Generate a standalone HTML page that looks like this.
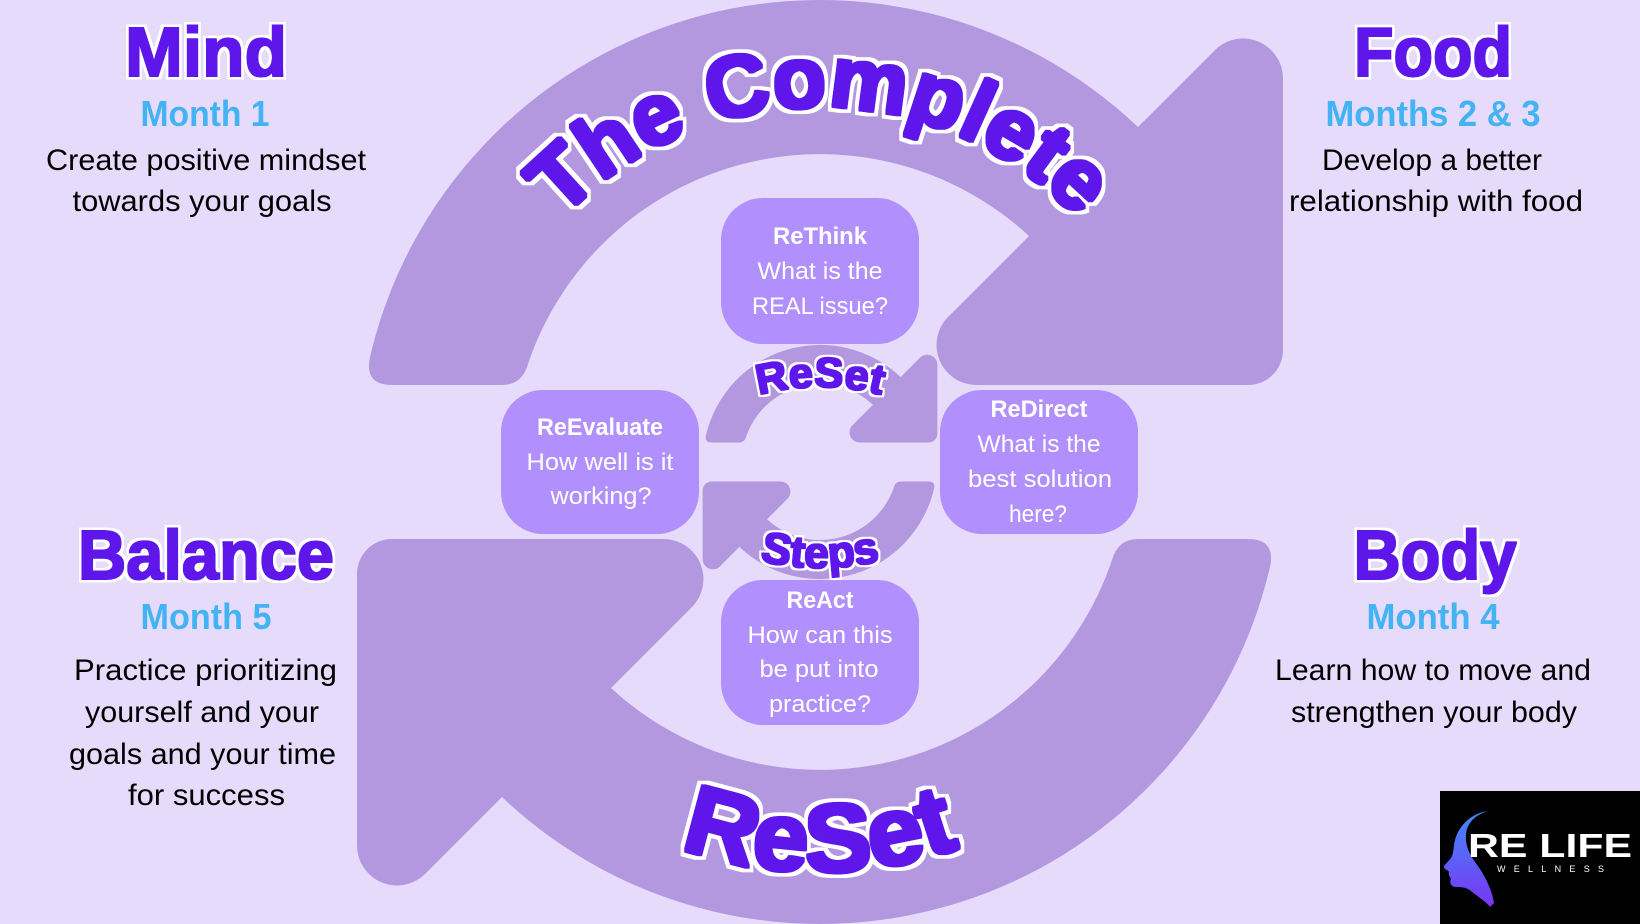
<!DOCTYPE html>
<html>
<head>
<meta charset="utf-8">
<style>
  html, body { margin: 0; padding: 0; background: #E6DBFA; }
  svg { display: block; }
  text { font-family: "Liberation Sans", Arial, sans-serif; }
</style>
</head>
<body>
<svg width="1640" height="924" viewBox="0 0 1640 924" xmlns="http://www.w3.org/2000/svg">
  <defs>
    <filter id="hdr" x="-15%" y="-30%" width="130%" height="160%">
      <feMorphology in="SourceAlpha" operator="dilate" radius="3.6" result="a"/>
      <feFlood flood-color="#ffffff"/>
      <feComposite in2="a" operator="in" result="w"/>
      <feMorphology in="SourceGraphic" operator="dilate" radius="1.2" result="f"/>
      <feMerge><feMergeNode in="w"/><feMergeNode in="f"/></feMerge>
    </filter>
    <filter id="big" x="-10%" y="-20%" width="120%" height="140%">
      <feMorphology in="SourceAlpha" operator="dilate" radius="5.4" result="a"/>
      <feFlood flood-color="#ffffff"/>
      <feComposite in2="a" operator="in" result="w"/>
      <feMorphology in="SourceGraphic" operator="dilate" radius="1.8" result="f"/>
      <feMerge><feMergeNode in="w"/><feMergeNode in="f"/></feMerge>
    </filter>
    <filter id="sml" x="-15%" y="-30%" width="130%" height="160%">
      <feMorphology in="SourceAlpha" operator="dilate" radius="2.8" result="a"/>
      <feFlood flood-color="#ffffff"/>
      <feComposite in2="a" operator="in" result="w"/>
      <feMorphology in="SourceGraphic" operator="dilate" radius="1" result="f"/>
      <feMerge><feMergeNode in="w"/><feMergeNode in="f"/></feMerge>
    </filter>
    <linearGradient id="head" x1="0" y1="0" x2="0" y2="1">
      <stop offset="0" stop-color="#3E8BFF"/>
      <stop offset="1" stop-color="#7A35F2"/>
    </linearGradient>
    <path id="pComplete" d="M 465 462 A 355 355 0 0 1 1175 462"/>
    <path id="pReset" d="M 410 462 A 410 410 0 0 0 1230 462"/>
    <path id="pSteps" d="M 570 318 A 250 250 0 0 0 1070 318"/>
    <path id="pSmallReset" d="M 580 627 A 240 240 0 0 1 1060 627"/>
  </defs>

  <rect x="0" y="0" width="1640" height="924" fill="#E6DBFA"/>

  <!-- Big cycle arrows -->
  <g fill="#B398E0">
    <path d="M 392 385 Q 364 385 370 357 A 462 462 0 0 1 1138 127 L 1215 50 A 40 40 0 0 1 1283 79 L 1283 350 A 35 35 0 0 1 1248 385 L 976 385 A 40 40 0 0 1 948 317 L 1029 236 A 308 308 0 0 0 528 364 Q 522 385 502 385 Z"/>
    <path transform="rotate(180 820 462)" d="M 392 385 Q 364 385 370 357 A 462 462 0 0 1 1138 127 L 1215 50 A 40 40 0 0 1 1283 79 L 1283 350 A 35 35 0 0 1 1248 385 L 976 385 A 40 40 0 0 1 948 317 L 1029 236 A 308 308 0 0 0 528 364 Q 522 385 502 385 Z"/>
  </g>

  <!-- Small cycle arrows -->
  <g fill="#B398E0" transform="translate(820 462) scale(0.2535) translate(-820 -462)">
    <path d="M 392 385 Q 364 385 370 357 A 462 462 0 0 1 1138 127 L 1215 50 A 40 40 0 0 1 1283 79 L 1283 350 A 35 35 0 0 1 1248 385 L 976 385 A 40 40 0 0 1 948 317 L 1029 236 A 308 308 0 0 0 528 364 Q 522 385 502 385 Z"/>
    <path transform="rotate(180 820 462)" d="M 392 385 Q 364 385 370 357 A 462 462 0 0 1 1138 127 L 1215 50 A 40 40 0 0 1 1283 79 L 1283 350 A 35 35 0 0 1 1248 385 L 976 385 A 40 40 0 0 1 948 317 L 1029 236 A 308 308 0 0 0 528 364 Q 522 385 502 385 Z"/>
  </g>

  <!-- Boxes -->
  <g fill="#B18FFC">
    <rect x="721" y="198" width="198" height="146" rx="42" ry="42"/>
    <rect x="501" y="390" width="198" height="144" rx="42" ry="42"/>
    <rect x="940" y="390" width="198" height="144" rx="42" ry="42"/>
    <rect x="721" y="580" width="198" height="145" rx="42" ry="42"/>
  </g>

  <!-- Box texts -->
  <g fill="#ffffff" text-anchor="middle" font-size="24">
    <text x="820" y="244" font-weight="bold" textLength="94" lengthAdjust="spacingAndGlyphs">ReThink</text>
    <text x="820" y="279" textLength="125" lengthAdjust="spacingAndGlyphs">What is the</text>
    <text x="820" y="314" textLength="136" lengthAdjust="spacingAndGlyphs">REAL issue?</text>

    <text x="600" y="435" font-weight="bold" textLength="126" lengthAdjust="spacingAndGlyphs">ReEvaluate</text>
    <text x="600" y="470" textLength="147" lengthAdjust="spacingAndGlyphs">How well is it</text>
    <text x="601" y="504" textLength="101" lengthAdjust="spacingAndGlyphs">working?</text>

    <text x="1039" y="417" font-weight="bold" textLength="97" lengthAdjust="spacingAndGlyphs">ReDirect</text>
    <text x="1039" y="452" textLength="123" lengthAdjust="spacingAndGlyphs">What is the</text>
    <text x="1040" y="487" textLength="144" lengthAdjust="spacingAndGlyphs">best solution</text>
    <text x="1038" y="522" textLength="58" lengthAdjust="spacingAndGlyphs">here?</text>

    <text x="820" y="608" font-weight="bold" textLength="67" lengthAdjust="spacingAndGlyphs">ReAct</text>
    <text x="820" y="643" textLength="145" lengthAdjust="spacingAndGlyphs">How can this</text>
    <text x="819" y="677" textLength="119" lengthAdjust="spacingAndGlyphs">be put into</text>
    <text x="820" y="712" textLength="102" lengthAdjust="spacingAndGlyphs">practice?</text>
  </g>

  <!-- Curved titles -->
  <text fill="#5E17EB" font-weight="bold" font-size="87" filter="url(#big)">
    <textPath href="#pComplete" startOffset="50%" text-anchor="middle" textLength="578" lengthAdjust="spacingAndGlyphs">The Complete</textPath>
  </text>
  <text fill="#5E17EB" font-weight="bold" font-size="97" filter="url(#big)">
    <textPath href="#pReset" startOffset="50%" text-anchor="middle" textLength="286" lengthAdjust="spacingAndGlyphs">ReSet</textPath>
  </text>
  <text fill="#5E17EB" font-weight="bold" font-size="42" filter="url(#sml)">
    <textPath href="#pSmallReset" startOffset="50%" text-anchor="middle" textLength="124" lengthAdjust="spacingAndGlyphs">ReSet</textPath>
  </text>
  <text fill="#5E17EB" font-weight="bold" font-size="44" filter="url(#sml)">
    <textPath href="#pSteps" startOffset="50%" text-anchor="middle" textLength="122" lengthAdjust="spacingAndGlyphs">Steps</textPath>
  </text>

  <!-- Corner headings -->
  <g fill="#5E17EB" font-weight="bold" font-size="70" text-anchor="middle" filter="url(#hdr)">
    <text x="206" y="76" textLength="162" lengthAdjust="spacingAndGlyphs">Mind</text>
    <text x="1433" y="76" textLength="158" lengthAdjust="spacingAndGlyphs">Food</text>
    <text x="206" y="579" textLength="256" lengthAdjust="spacingAndGlyphs">Balance</text>
    <text x="1435" y="579" textLength="163" lengthAdjust="spacingAndGlyphs">Body</text>
  </g>

  <g fill="#43B3F4" font-weight="bold" font-size="36" text-anchor="middle">
    <text x="205" y="126" textLength="129" lengthAdjust="spacingAndGlyphs">Month 1</text>
    <text x="1433" y="126" textLength="215" lengthAdjust="spacingAndGlyphs">Months 2 &amp; 3</text>
    <text x="206" y="629" textLength="131" lengthAdjust="spacingAndGlyphs">Month 5</text>
    <text x="1433" y="629" textLength="133" lengthAdjust="spacingAndGlyphs">Month 4</text>
  </g>

  <g fill="#000000" font-size="30" text-anchor="middle">
    <text x="206" y="170" textLength="320" lengthAdjust="spacingAndGlyphs">Create positive mindset</text>
    <text x="202" y="211" textLength="259" lengthAdjust="spacingAndGlyphs">towards your goals</text>
    <text x="1432" y="170" textLength="220" lengthAdjust="spacingAndGlyphs">Develop a better</text>
    <text x="1436" y="211" textLength="294" lengthAdjust="spacingAndGlyphs">relationship with food</text>

    <text x="205.5" y="680" textLength="263" lengthAdjust="spacingAndGlyphs">Practice prioritizing</text>
    <text x="202" y="722" textLength="234" lengthAdjust="spacingAndGlyphs">yourself and your</text>
    <text x="202.5" y="764" textLength="267" lengthAdjust="spacingAndGlyphs">goals and your time</text>
    <text x="206.5" y="805" textLength="157" lengthAdjust="spacingAndGlyphs">for success</text>

    <text x="1433" y="680" textLength="316" lengthAdjust="spacingAndGlyphs">Learn how to move and</text>
    <text x="1434" y="722" textLength="286" lengthAdjust="spacingAndGlyphs">strengthen your body</text>
  </g>

  <!-- Logo -->
  <rect x="1440" y="791" width="200" height="133" fill="#000000"/>
  <path fill="url(#head)" d="M 1488 811 C 1472 813 1459 825 1455 840 C 1453 848 1454 853 1451 858 L 1444 866 C 1443 869 1448 870 1449 872 C 1448 875 1450 877 1451 879 C 1449 883 1451 887 1457 887 C 1463 887 1468 888 1472 892 C 1480 898 1486 902 1490 907 L 1494 903 C 1492 890 1485 875 1475 862 C 1467 851 1464 840 1467 829 C 1470 820 1478 814 1488 811 Z"/>
  <text x="1550" y="857" fill="#ffffff" font-weight="bold" font-size="33" text-anchor="middle" textLength="164" lengthAdjust="spacingAndGlyphs">RE LIFE</text>
  <text x="1550.5" y="872" fill="#ffffff" font-size="9" text-anchor="middle" textLength="107" lengthAdjust="spacing">WELLNESS</text>
</svg>
</body>
</html>
